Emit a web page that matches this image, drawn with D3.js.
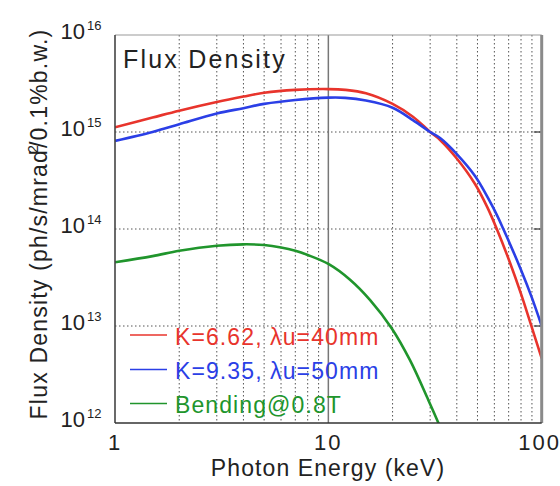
<!DOCTYPE html>
<html><head><meta charset="utf-8">
<script src="https://cdn.jsdelivr.net/npm/d3@7"></script>
<style>
html,body{margin:0;padding:0;background:#fff;}
svg{display:block;font-family:"Liberation Sans",Arial,Helvetica,sans-serif;}
</style></head>
<body>
<svg id="chart" width="560" height="486"></svg>
<script>
// ---- data (photon energy keV, flux density) ----
const redE   = [1,1.5,2,3,4,5,7,10,12,15,20,25,30,33.4,40,48.7,55.5,61.6,71.1,80,89.2,100];
const redF   = [1.12e15,1.41e15,1.66e15,2.04e15,2.32e15,2.54e15,2.72e15,2.77e15,2.72e15,2.51e15,1.95e15,1.43e15,1.0e15,8.28e14,5.33e14,2.91e14,1.69e14,1.0e14,4.46e13,2.14e13,1.02e13,4.65e12];
const blueE  = [1,1.5,2,3,4,5,7,10,12,15,20,25,30,33.4,40,48.7,59.4,66.1,80,90,100];
const blueF  = [8.1e14,1.0e15,1.2e15,1.55e15,1.76e15,1.95e15,2.14e15,2.26e15,2.25e15,2.11e15,1.78e15,1.32e15,1.0e15,8.67e14,5.93e14,3.52e14,1.64e14,1.0e14,3.78e13,1.95e13,1.0e13];
const greenE = [1,1.5,2,3,4,5,6,7,8,10,12.6,15.7,19.8,24.1,29.4,32.8,35];
const greenF = [4.54e13,5.25e13,5.97e13,6.73e13,6.95e13,6.84e13,6.46e13,5.97e13,5.4e13,4.37e13,3.02e13,1.85e13,9.5e12,4.47e12,1.73e12,1.0e12,7.0e11];
const seriesNames = ["K=6.62, λu=40mm","K=9.35, λu=50mm","Bending@0.8T"];
const seriesColors = ["#e8342c","#2b3fe6","#20952c"];
const yTickExp = [12,13,14,15,16];
const xTickVals = [1,10,100];
const xTickLabels = ["1","10","100"];
const plotTitle = "Flux Density";
const xTitle = "Photon Energy (keV)";

// ---- layout ----
const L=115, R=541.7, T=35, B=423;
const svg = d3.select("#chart");
const x = d3.scaleLog().domain([1,100]).range([L,R]);
const y = d3.scaleLog().domain([1e12,1e16]).range([B,T]);

svg.append("defs").append("clipPath").attr("id","clip")
  .append("rect").attr("x",L).attr("y",T).attr("width",R-L).attr("height",B-T);

const g = svg.append("g");

// minor vertical dotted grid
const minorX = [];
[1,10].forEach(d=>{for(let k=2;k<=9;k++) minorX.push(d*k);});
g.selectAll(".vg").data(minorX).join("line")
  .attr("x1",d=>x(d)).attr("x2",d=>x(d)).attr("y1",T).attr("y2",B)
  .attr("stroke","#555").attr("stroke-width",1).attr("stroke-dasharray","1.5,2.5");
// horizontal dotted grid at decades
g.selectAll(".hg").data(yTickExp.slice(1,-1)).join("line")
  .attr("x1",L).attr("x2",R).attr("y1",d=>y(Math.pow(10,d))).attr("y2",d=>y(Math.pow(10,d)))
  .attr("stroke","#555").attr("stroke-width",1).attr("stroke-dasharray","1.5,2.5");
// solid major vertical at 10
g.append("line").attr("x1",x(10)).attr("x2",x(10)).attr("y1",T).attr("y2",B)
  .attr("stroke","#777").attr("stroke-width",1.5);
// right side decade ticks
g.selectAll(".rt").data(yTickExp.slice(1,-1)).join("line")
  .attr("x1",R-8).attr("x2",R).attr("y1",d=>y(Math.pow(10,d))).attr("y2",d=>y(Math.pow(10,d)))
  .attr("stroke","#333").attr("stroke-width",1.2);

// curves
const line = d3.line().x(d=>x(d[0])).y(d=>y(d[1])).curve(d3.curveCatmullRom.alpha(0.5));
const series = [d3.zip(redE,redF), d3.zip(blueE,blueF), d3.zip(greenE,greenF)];
const curves = svg.append("g").attr("clip-path","url(#clip)");
[2,0,1].forEach(i=>{
  curves.append("path").datum(series[i]).attr("d",line)
    .attr("fill","none").attr("stroke",seriesColors[i]).attr("stroke-width",2.6)
    .attr("stroke-linejoin","round");
});

// frame
svg.append("line").attr("x1",L).attr("x2",R).attr("y1",T).attr("y2",T).attr("stroke","#999").attr("stroke-width",1);
svg.append("line").attr("x1",R).attr("x2",R).attr("y1",T).attr("y2",B).attr("stroke","#8a8a8a").attr("stroke-width",3);
svg.append("line").attr("x1",L).attr("x2",L).attr("y1",T).attr("y2",B).attr("stroke","#444").attr("stroke-width",1.6);
svg.append("line").attr("x1",L).attr("x2",R).attr("y1",B).attr("y2",B).attr("stroke","#333").attr("stroke-width",1.6);

// y tick labels
svg.selectAll(".ylab").data(yTickExp).join("text")
  .attr("x",85).attr("y",d=>y(Math.pow(10,d))+4)
  .attr("text-anchor","end").attr("fill","#222").style("font-size","22px").text("10");
svg.selectAll(".ysup").data(yTickExp).join("text")
  .attr("x",87).attr("y",d=>y(Math.pow(10,d))-5)
  .attr("fill","#222").style("font-size","13px").text(d=>String(d));

// x tick labels
svg.selectAll(".xlab").data(xTickVals).join("text")
  .attr("x",(d,i)=>x(d)-(i===2?2:0)).attr("y",450).attr("text-anchor","middle")
  .attr("fill","#222").style("font-size","22px").style("letter-spacing","2px")
  .text((d,i)=>xTickLabels[i]);

// x title
svg.append("text").attr("x",328).attr("y",476).attr("text-anchor","middle")
  .attr("fill","#222").style("font-size","23px").style("letter-spacing","1.1px").text(xTitle);

// y title
const yt = svg.append("text").attr("transform","translate(47,224) rotate(-90)")
  .attr("text-anchor","middle").attr("fill","#222").style("font-size","23px").style("letter-spacing","1.2px");
yt.append("tspan").text("Flux Density (ph/s/mrad");
yt.append("tspan").attr("dy",-9).style("font-size","14px").attr("dx",-4).text("2");
yt.append("tspan").attr("dy",9).attr("dx",-4).text("/0.1%b.w.)");

// plot title
svg.append("text").attr("x",123).attr("y",68).attr("fill","#222")
  .style("font-size","25px").style("letter-spacing","2.2px").text(plotTitle);

// legend
const legY = [335,369.5,403.5];
seriesNames.forEach((n,i)=>{
  svg.append("line").attr("x1",130).attr("x2",167).attr("y1",legY[i]).attr("y2",legY[i])
    .attr("stroke",seriesColors[i]).attr("stroke-width",1.6);
  svg.append("text").attr("x",175).attr("y",legY[i]+9.5).attr("fill",seriesColors[i])
    .style("font-size","23px").style("letter-spacing","1.1px").text(n);
});
</script>
</body></html>
